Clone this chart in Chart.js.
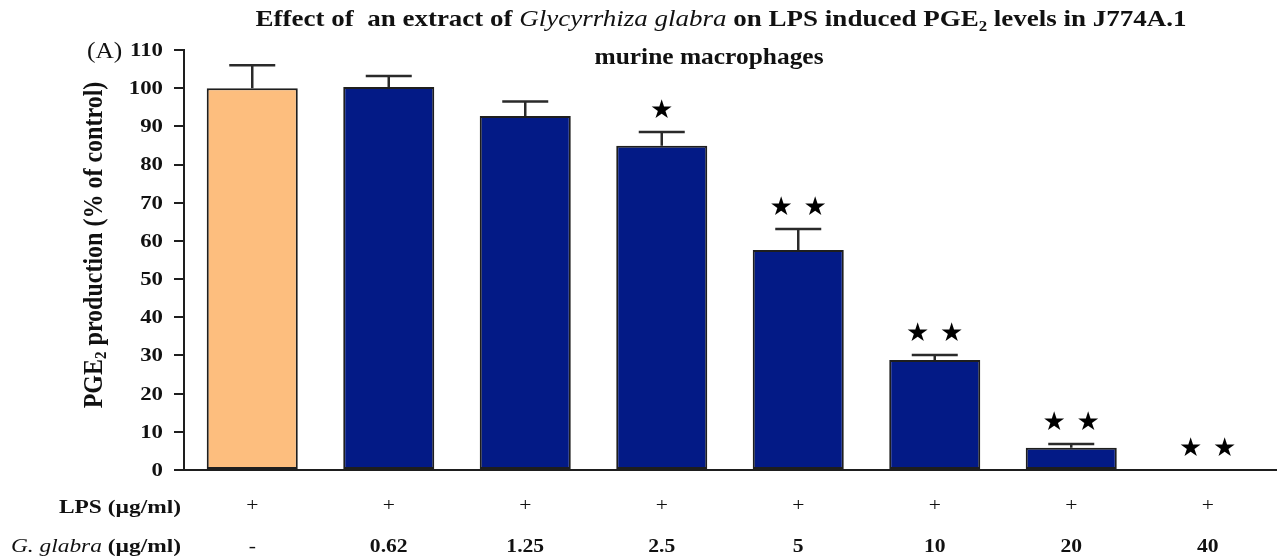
<!DOCTYPE html>
<html>
<head>
<meta charset="utf-8">
<script src="https://cdn.jsdelivr.net/npm/chart.js@4.4.1/dist/chart.umd.min.js"></script>
<style>
  html, body { margin: 0; padding: 0; background: #ffffff; }
  #wrap { width: 1278px; height: 558px; position: relative; }
</style>
</head>
<body>
<div id="wrap"><canvas id="chart"></canvas></div>
<script>
// Treatment groups (LPS-stimulated J774A.1 cells, G. glabra extract dose)
const groups = ['LPS', 'LPS + 0.62', 'LPS + 1.25', 'LPS + 2.5', 'LPS + 5', 'LPS + 10', 'LPS + 20', 'LPS + 40'];
const lpsRow = ['+', '+', '+', '+', '+', '+', '+', '+'];
const glabraRow = ['-', '0.62', '1.25', '2.5', '5', '10', '20', '40'];

// PGE2 production, % of LPS control, mean and SEM
const pge2Mean = [100.0, 100.3, 92.7, 84.9, 57.6, 28.8, 5.8, 0];
const pge2Sem = [6.0, 2.9, 3.8, 3.6, 5.5, 1.3, 1.0, 0];

// Number of significance stars above each bar
const starCount = [0, 0, 0, 1, 2, 2, 2, 2];

// Y axis range
const yMin = 0, yMax = 110, yStep = 10;

const controlColor = '#FDBE7E';
const treatedColor = '#031A86';
const serif = '"Liberation Serif", "Times New Roman", serif';
const widen = 1.2;   // horizontal widening of the lettering

// Draws text runs on one baseline, each run with its own font / vertical offset
function drawRuns(ctx, runs, x, y, align, sx) {
  sx = sx || 1;
  let total = 0;
  runs.forEach(r => { ctx.font = r.font; total += ctx.measureText(r.text).width; });
  let cx = align === 'center' ? -total / 2 : (align === 'right' ? -total : 0);
  ctx.save();
  ctx.translate(x, y);
  ctx.scale(sx, 1);
  ctx.textAlign = 'left';
  runs.forEach(r => {
    ctx.font = r.font;
    ctx.fillText(r.text, cx, r.dy || 0);
    cx += ctx.measureText(r.text).width;
  });
  ctx.restore();
}

const errorBars = {
  id: 'errorBars',
  afterDatasetsDraw(chart) {
    const ctx = chart.ctx;
    const meta = chart.getDatasetMeta(0);
    const y = chart.scales.y;
    ctx.save();
    ctx.strokeStyle = '#2a2a2a';
    ctx.lineWidth = 2.5;
    meta.data.forEach((bar, i) => {
      if (!pge2Sem[i]) return;
      const yBar = y.getPixelForValue(pge2Mean[i]);
      const yTop = y.getPixelForValue(pge2Mean[i] + pge2Sem[i]);
      ctx.beginPath();
      ctx.moveTo(bar.x, yBar);
      ctx.lineTo(bar.x, yTop);
      ctx.moveTo(bar.x - 23, yTop);
      ctx.lineTo(bar.x + 23, yTop);
      ctx.stroke();
    });
    // significance stars
    ctx.fillStyle = '#000';
    ctx.font = '26px "DejaVu Sans", sans-serif';
    ctx.textAlign = 'center';
    ctx.textBaseline = 'middle';
    meta.data.forEach((bar, i) => {
      const n = starCount[i];
      if (!n) return;
      const yc = y.getPixelForValue(pge2Mean[i] + pge2Sem[i]) - 21;
      for (let k = 0; k < n; k++) {
        const dx = (k - (n - 1) / 2) * 34;
        ctx.fillText('\u2605', bar.x + dx, yc);
      }
    });
    ctx.restore();
  }
};

const textLayer = {
  id: 'textLayer',
  afterDraw(chart) {
    const ctx = chart.ctx;
    const x = chart.scales.x;
    const y = chart.scales.y;
    ctx.save();
    ctx.fillStyle = '#111';
    ctx.textBaseline = 'alphabetic';

    // title
    const tb = 'bold 22.5px ' + serif;
    drawRuns(ctx, [
      { text: 'Effect of  an extract of ', font: tb },
      { text: 'Glycyrrhiza glabra', font: 'italic 22.5px ' + serif },
      { text: ' on LPS induced PGE', font: tb },
      { text: '2', font: 'bold 14px ' + serif, dy: 5 },
      { text: ' levels in J774A.1', font: tb }
    ], 721, 26, 'center', widen);
    drawRuns(ctx, [{ text: 'murine macrophages', font: tb }], 709, 64, 'center', 1.13);

    // panel letter
    drawRuns(ctx, [{ text: '(A)', font: '24px ' + serif }], 87, 58, 'left', 1.06);

    // y tick labels
    ctx.textBaseline = 'middle';
    y.ticks.forEach((t, i) => {
      drawRuns(ctx, [{ text: String(t.value), font: 'bold 19px ' + serif }], 163, y.getPixelForTick(i) + 1, 'right', widen);
    });

    // y axis title, rotated
    ctx.save();
    ctx.translate(95, 245);
    ctx.scale(widen * 0.92, 1);
    ctx.rotate(-Math.PI / 2);
    ctx.textBaseline = 'middle';
    drawRuns(ctx, [
      { text: 'PGE', font: 'bold 24px ' + serif },
      { text: '2', font: 'bold 15px ' + serif, dy: 6 },
      { text: ' production (% of control)', font: 'bold 24px ' + serif }
    ], 0, 0, 'center', 1);
    ctx.restore();

    // treatment rows under the axis
    ctx.textBaseline = 'middle';
    drawRuns(ctx, [{ text: 'LPS (\u00b5g/ml)', font: 'bold 19.5px ' + serif }], 181, 508, 'right', widen);
    drawRuns(ctx, [
      { text: 'G. glabra', font: 'italic 19.5px ' + serif },
      { text: ' (\u00b5g/ml)', font: 'bold 19.5px ' + serif }
    ], 181, 547, 'right', widen);
    groups.forEach((g, i) => {
      const px = x.getPixelForValue(i);
      drawRuns(ctx, [{ text: lpsRow[i], font: '18px ' + serif }], px, 506, 'center', widen);
      drawRuns(ctx, [{ text: glabraRow[i], font: (glabraRow[i] === '-' ? '18px ' : 'bold 18px ') + serif }], px, 547, 'center', widen);
    });
    ctx.restore();
  }
};

new Chart(document.getElementById('chart'), {
  type: 'bar',
  data: {
    labels: groups,
    datasets: [{
      data: pge2Mean,
      backgroundColor: pge2Mean.map((v, i) => i === 0 ? controlColor : treatedColor),
      borderColor: '#1e1e1e',
      borderWidth: 2,
      borderSkipped: false,
      barPercentage: 0.667,
      categoryPercentage: 1.0
    }]
  },
  options: {
    responsive: true,
    maintainAspectRatio: false,
    animation: false,
    layout: { padding: { top: 50, right: 2, bottom: 0, left: 0 } },
    plugins: { legend: { display: false }, tooltip: { enabled: false }, title: { display: false } },
    scales: {
      x: {
        grid: { display: false, drawTicks: false },
        border: { display: true, color: '#1e1e1e', width: 2 },
        ticks: { display: false },
        afterFit(s) { s.height = 88; }
      },
      y: {
        min: yMin,
        max: yMax,
        ticks: { stepSize: yStep, display: true, color: 'rgba(0,0,0,0)', padding: 0, font: { size: 1 } },
        grid: { drawOnChartArea: false, drawTicks: true, tickLength: 10, color: '#1e1e1e', lineWidth: 2 },
        border: { display: true, color: '#1e1e1e', width: 2 },
        afterFit(s) { s.width = 184; }
      }
    }
  },
  plugins: [errorBars, textLayer]
});
</script>
</body>
</html>
